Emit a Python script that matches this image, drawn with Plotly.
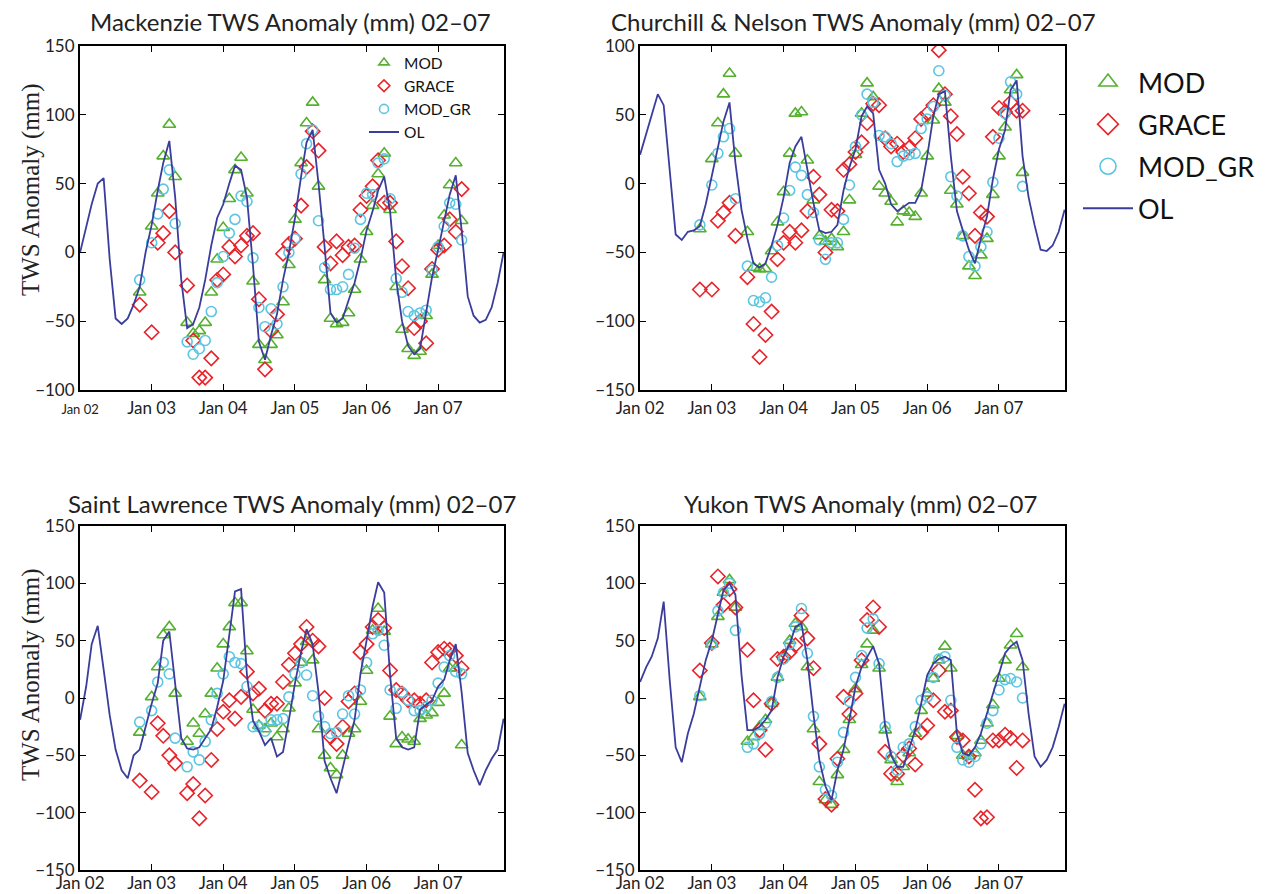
import plotly.graph_objects as go
import pandas as pd

# ---------------- data ----------------
months = pd.date_range("2002-01-01", periods=72, freq="MS")          # OL: Jan 2002 - Dec 2007
obs_months = months[10:65]                                            # obs: Nov 2002 - May 2007
tick_vals = ["2002-01-01", "2003-01-01", "2004-01-01", "2005-01-01", "2006-01-01", "2007-01-01"]
tick_text = ["Jan 02", "Jan 03", "Jan 04", "Jan 05", "Jan 06", "Jan 07"]

N = None
# Mackenzie
mack_mod = [-29, N, 19, 43, 70, 93, 55, N, -51, -59,
            -57, -51, -29, -5, 18, 39, 60, 69, 43, -21,
            -67, -78, -67, -60, -36, -9, 24, 65, 94, 109,
            48, -20, -48, -52, -51, -44, -27, -5, 15, 34,
            57, 72, 31, -25, -56, -70, -75, -72, -46, -16,
            5, 27, 49, 65, 23]
mack_grace = [-38, N, -58, 7, 14, 30, 0, N, -24, -64,
              -91, -91, -77, -20, -16, 4, -3, 5, 12, 14,
              -34, -85, -57, -45, -1, 6, 10, 34, 62, 88,
              74, 4, -8, 8, -2, 4, 5, 31, 41, 48,
              67, 36, 36, 8, -10, -26, -55, -50, -66, -12,
              2, 5, 24, 15, 46]
mack_modgr = [-20, N, 7, 28, 46, 60, 21, N, -65, -74,
              -70, -64, -43, -22, -3, 14, 24, 41, 37, -4,
              -40, -54, -41, -52, -25, 0, 10, 57, 79, 89,
              23, -11, -27, -27, -25, -16, 3, 24, 43, 42,
              65, 68, 39, -19, -29, -43, -46, -44, -42, -13,
              4, 19, 36, 35, 9]
mack_ol = [0, 18, 35, 50, 54, -5, -48, -52, -48, -38,
           -25, 0, 20, 45, 65, 81, 40, -20, -55, -52,
           -40, -20, 5, 25, 35, 50, 63, 60, 40, -10,
           -65, -78, -60, -45, -20, 0, 25, 55, 80, 89,
           50, 4, -44, -51, -48, -35, -22, -5, 16, 30,
           45, 55, 30, -20, -50, -68, -74, -70, -45, -18,
           2, 22, 42, 56, 16, -32, -46, -51, -49, -40,
           -22, 0]

# Churchill & Nelson
chur_mod = [-33, N, 18, 44, 65, 80, 22, N, -35, -61,
            -62, -62, -49, -28, -6, 22, 51, 52, 17, -12,
            -38, -42, -40, -46, -35, -12, 21, 51, 73, 63,
            -2, -7, -13, -28, -20, -21, -24, -7, 20, 46,
            69, 59, -5, -15, -38, -60, -67, -52, -40, -8,
            20, 41, 68, 79, 8]
chur_grace = [-77, N, -77, -27, -21, -14, -38, N, -68, -102,
              -126, -110, -93, -55, -43, -35, -43, -34, -20, 5,
              -8, -50, -19, -20, 10, 14, 23, 30, 44, 58,
              57, 33, 27, 29, 23, 26, 33, 47, 51, 57,
              97, 65, 49, 36, 5, -7, -38, -21, -24, 34,
              55, 52, 59, 53, 53]
chur_modgr = [-30, N, -1, 22, 34, 40, -11, N, -60, -85,
              -86, -83, -68, -45, -25, -5, 12, 6, -8, -21,
              -41, -55, -43, -43, -26, -1, 27, 50, 65, 59,
              35, 34, 29, 16, 20, 21, 22, 40, 47, 56,
              82, 64, 5, -9, -38, -53, -60, -46, -35, 1,
              33, 51, 74, 65, -2]
chur_ol = [21, 36, 51, 65, 57, 10, -37, -41, -35, -34,
           -31, -15, 5, 25, 45, 59, 15, -19, -40, -58,
           -61, -58, -45, -30, -10, 15, 27, 34, 10, -14,
           -34, -36, -35, -30, -5, 12, 25, 49, 56, 51,
           10, 0, -15, -20, -17, -14, -14, -5, 20, 49,
           65, 67, 20, -20, -34, -48, -58, -40, -24, 3,
           25, 39, 68, 75, 20, -10, -30, -48, -49, -45,
           -35, -19]

# Saint Lawrence
stl_mod = [-30, N, 1, 27, 55, 62, 4, N, -38, -22,
           -31, -14, 4, 26, 47, 62, 83, 83, 41, -10,
           -24, -27, -22, -34, -27, -9, 13, 31, 49, 33,
           -27, -50, -61, -67, -50, -31, -27, -3, 24, 59,
           78, 58, -16, -40, -34, -36, -38, -18, -15, -13,
           -4, 4, 26, 26, -41]
stl_grace = [-72, N, -82, -22, -33, -50, -57, N, -83, -75,
             -105, -85, -54, -27, -12, -2, -18, 1, 23, 4,
             8, -11, -5, -5, 14, 29, 39, 47, 62, 50,
             45, 0, -34, -40, -25, -3, 4, 40, 47, 62,
             68, 61, 24, 7, 4, -2, -2, -5, -2, 31,
             40, 43, 42, 37, 26]
stl_modgr = [-21, N, -11, 14, 31, 21, -35, N, -60, -47,
             -54, -38, -19, 4, 21, 36, 31, 30, 10, -25,
             -25, -29, -19, -19, -18, 1, 21, 31, 20, 2,
             -16, -25, -31, -30, -14, 2, -14, 7, 31, 56,
             59, 46, 7, -9, 5, -2, -11, -11, -8, -2,
             13, 27, 37, 23, 21]
stl_ol = [-19, 10, 47, 63, 25, -15, -45, -63, -70, -50,
          -45, -25, -5, 13, 50, 58, 10, -35, -44, -45,
          -43, -35, -27, -8, 15, 55, 93, 95, 20, -20,
          -29, -41, -35, -51, -47, -19, 13, 40, 60, 47,
          5, -55, -70, -83, -60, -40, -19, 21, 50, 80,
          101, 92, 20, -35, -43, -45, -43, -10, -6, -2,
          10, 16, 33, 47, 5, -48, -63, -76, -63, -53,
          -45, -18]

# Yukon
yuk_mod = [1, N, 47, 71, 92, 103, 79, N, -38, -34,
           -25, -19, -5, 18, 36, 50, 65, 62, 27, -27,
           -73, -89, -93, -67, -45, -19, 8, 29, 47, 59,
           26, -28, -54, -73, -60, -48, -31, -11, 4, 17,
           33, 45, 26, -33, -50, -51, -48, -37, -22, -6,
           17, 33, 46, 56, 27]
yuk_grace = [24, N, 48, 106, 81, 95, 79, N, 42, -2,
             -28, -45, -5, 34, 36, 40, 46, 72, 52, 26,
             -40, -88, -93, -53, 1, -14, 4, 33, 68, 79,
             62, -47, -66, -66, -50, -44, -58, -30, -24, -2,
             24, -12, -11, -34, -37, -51, -80, -105, -104, -37,
             -37, -32, -35, -61, -37]
yuk_modgr = [2, N, 47, 76, 92, 100, 59, N, -43, -40,
             -31, -22, -3, 18, 34, 47, 62, 78, 39, -16,
             -60, -80, -85, -56, -30, -3, 18, 37, 61, 69,
             30, -25, -51, -63, -43, -40, -25, -2, 1, 18,
             34, 36, -2, -43, -54, -56, -51, -40, -22, -11,
             7, 16, 17, 14, 0]
yuk_ol = [14, 27, 36, 52, 84, 15, -43, -56, -31, -14,
          10, 33, 50, 74, 94, 100, 90, 20, -28, -28,
          -25, -19, -11, 18, 36, 47, 62, 65, 33, -14,
          -54, -77, -89, -63, -45, -19, 10, 27, 36, 45,
          30, -25, -50, -60, -60, -45, -28, -5, 20, 30,
          34, 36, 33, -31, -48, -50, -43, -31, -14, 4,
          21, 39, 45, 49, 33, -14, -51, -60, -54, -43,
          -25, -5]

panels = [
    ("Mackenzie TWS Anomaly (mm) 02\u201307", mack_mod, mack_grace, mack_modgr, mack_ol, [-100, 150]),
    ("Churchill & Nelson TWS Anomaly (mm) 02\u201307", chur_mod, chur_grace, chur_modgr, chur_ol, [-150, 100]),
    ("Saint Lawrence TWS Anomaly (mm) 02\u201307", stl_mod, stl_grace, stl_modgr, stl_ol, [-150, 150]),
    ("Yukon TWS Anomaly (mm) 02\u201307", yuk_mod, yuk_grace, yuk_modgr, yuk_ol, [-150, 150]),
]

# ---------------- style ----------------
OFF = 8                      # page body margin of the html page
W, H = 1268 - OFF, 894 - OFF
GREEN, RED, CYAN, NAVY = "#56b030", "#e8232a", "#5cc6e2", "#3b3d9c"
FONT = "Lato"

def fx(x):                   # screen pixel -> paper fraction
    return (x - OFF) / W

def fy(y):
    return (H - (y - OFF)) / H

x_dom = [[fx(80), fx(504)], [fx(640), fx(1065)], [fx(80), fx(504)], [fx(640), fx(1065)]]
y_dom = [[fy(390), fy(46)], [fy(390), fy(46)], [fy(870), fy(526)], [fy(870), fy(526)]]
title_pos = [(290, 21), (854, 21), (292, 503), (860, 503)]
standoff = [2, 2, -3, -3]

fig = go.Figure()
layout = dict(
    width=W, height=H, margin=dict(l=0, r=0, t=0, b=0, autoexpand=False),
    paper_bgcolor="white", plot_bgcolor="white",
    font=dict(family=FONT, color="#222222"),
    annotations=[],
)

for i, (title, mod, grace, modgr, ol, yr) in enumerate(panels):
    k = "" if i == 0 else str(i + 1)
    xa, ya = "x" + k, "y" + k
    fig.add_trace(go.Scatter(x=obs_months, y=mod, mode="markers", xaxis=xa, yaxis=ya, showlegend=False,
                             marker=dict(symbol="triangle-up-open", size=11, color=GREEN, line=dict(width=1.6, color=GREEN))))
    fig.add_trace(go.Scatter(x=obs_months, y=grace, mode="markers", xaxis=xa, yaxis=ya, showlegend=False,
                             marker=dict(symbol="diamond-open", size=11, color=RED, line=dict(width=1.6, color=RED))))
    fig.add_trace(go.Scatter(x=obs_months, y=modgr, mode="markers", xaxis=xa, yaxis=ya, showlegend=False,
                             marker=dict(symbol="circle-open", size=10, color=CYAN, line=dict(width=1.6, color=CYAN))))
    fig.add_trace(go.Scatter(x=months, y=ol, mode="lines", xaxis=xa, yaxis=ya, showlegend=False,
                             line=dict(color=NAVY, width=1.8)))

    ttext = list(tick_text)
    if i == 0:
        ttext[0] = "<span style='font-size:13px'>Jan 02</span>"
    common = dict(showline=True, linecolor="black", linewidth=2, mirror="ticks",
                  ticks="inside", ticklen=6, tickwidth=1, tickcolor="black",
                  showgrid=False, zeroline=False, automargin=False,
                  tickfont=dict(family=FONT, size=17, color="#222222"))
    layout["xaxis" + k] = dict(common, domain=x_dom[i], anchor=ya, type="date",
                               range=["2001-12-31 12:00", "2007-12-03"], ticklabelstandoff=standoff[i],
                               tickmode="array", tickvals=tick_vals, ticktext=ttext)
    layout["yaxis" + k] = dict(common, domain=y_dom[i], anchor=xa, range=yr,
                               tickmode="linear", tick0=0, dtick=50)
    tx, ty = title_pos[i]
    layout["annotations"].append(dict(text=title, x=fx(tx), y=fy(ty), xref="paper", yref="paper",
                                      showarrow=False, xanchor="center", yanchor="middle",
                                      font=dict(family=FONT, size=24, color="#222222")))

# y-axis titles (serif)
for yc in (190, 675):
    layout["annotations"].append(dict(text="TWS Anomaly (mm)", x=fx(31), y=fy(yc), xref="paper", yref="paper",
                                      showarrow=False, textangle=-90, xanchor="center", yanchor="middle",
                                      font=dict(family="Liberation Serif", size=25, color="#222222")))

# legend entries (legend-only traces)
names = ["MOD", "GRACE", "MOD_GR", "OL"]
for lg, msz in (("legend", 16), ("legend2", 9)):
    specs = [
        dict(mode="markers", marker=dict(symbol="triangle-up-open", size=msz, color=GREEN, line=dict(width=1.6, color=GREEN))),
        dict(mode="markers", marker=dict(symbol="diamond-open", size=msz, color=RED, line=dict(width=1.6, color=RED))),
        dict(mode="markers", marker=dict(symbol="circle-open", size=msz, color=CYAN, line=dict(width=1.6, color=CYAN))),
        dict(mode="lines", line=dict(color=NAVY, width=2)),
    ]
    for nm, sp in zip(names, specs):
        fig.add_trace(go.Scatter(x=[None], y=[None], name=nm, legend=lg, legendgroup=lg + nm,
                                 showlegend=True, xaxis="x", yaxis="y", **sp))

layout["legend"] = dict(x=fx(1078), y=fy(58), xanchor="left", yanchor="top", bgcolor="rgba(0,0,0,0)",
                        font=dict(family=FONT, size=27, color="#111111"), traceorder="grouped",
                        tracegroupgap=4, itemsizing="trace", itemwidth=50)
layout["legend2"] = dict(x=fx(364), y=fy(46), xanchor="left", yanchor="top", bgcolor="rgba(0,0,0,0)",
                         font=dict(family=FONT, size=15.5, color="#111111"), traceorder="grouped",
                         tracegroupgap=0, itemsizing="trace")

fig.update_layout(**layout)
fig.write_html("out.html")
